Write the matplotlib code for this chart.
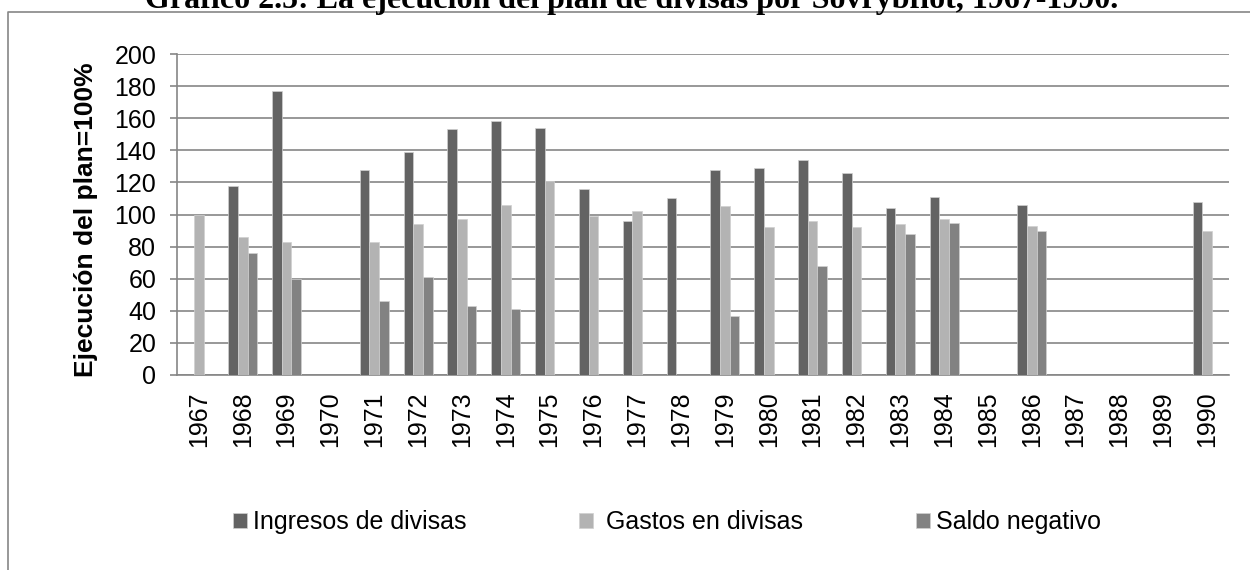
import numpy as np
import matplotlib
matplotlib.use('Agg')
import matplotlib.pyplot as plt
from matplotlib.lines import Line2D

# Años y ejecución del plan (plan = 100%)
years = [str(y) for y in range(1967, 1991)]
ingresos = [np.nan, 118, 177, np.nan, 128, 139, 153, 158, 154, 116, 96, 110,
            128, 129, 134, 126, 104, 111, np.nan, 106, np.nan, np.nan, np.nan, 108]
gastos = [100, 86, 83, np.nan, 83, 94, 97, 106, 121, 99, 102, np.nan,
          105, 92, 96, 92, 94, 97, np.nan, 93, np.nan, np.nan, np.nan, 90]
saldo = [np.nan, 76, 60, np.nan, 46, 61, 43, 41, np.nan, np.nan, np.nan, np.nan,
         37, np.nan, 68, np.nan, 88, 95, np.nan, 90, np.nan, np.nan, np.nan, np.nan]

series_labels = ['Ingresos de divisas', ' Gastos en divisas', 'Saldo negativo']
colors = ['#636363', '#b3b3b3', '#828282']
grid_col = '#868686'

plt.rcParams['font.family'] = ['Liberation Sans', 'DejaVu Sans']

fig = plt.figure(figsize=(12.5, 5.7), dpi=100)
ax = fig.add_axes([177 / 1250, 1 - 375 / 570, 1052 / 1250, 321 / 570])

x = np.arange(len(years))
w = 0.22
bars = []
for i, (vals, col, lab) in enumerate(zip([ingresos, gastos, saldo], colors, series_labels)):
    b = ax.bar(x + (i - 1) * w, vals, width=w, color=col, edgecolor='#d0d0d0',
               linewidth=0.5, label=lab, zorder=3)
    bars.append(b)

ax.set_xlim(-0.5, len(years) - 0.5)
ax.set_ylim(0, 200)
ax.set_yticks(range(0, 201, 20))
ax.set_xticks(x)
ax.set_xticklabels(years, rotation=90, fontsize=18)
ax.tick_params(axis='x', length=0, pad=12)
ax.tick_params(axis='y', length=5, width=1.2, color=grid_col, labelsize=18, pad=10)
ax.yaxis.grid(True, color=grid_col, linewidth=1.2, zorder=0)
ax.set_axisbelow(True)
for s in ['top', 'right']:
    ax.spines[s].set_visible(False)
for s in ['left', 'bottom']:
    ax.spines[s].set_color(grid_col)
    ax.spines[s].set_linewidth(1.2)

fig.text(86 / 1250, 1 - 220 / 570, 'Ejecución del plan=100%', rotation=90,
         ha='center', va='center', fontsize=19, fontweight='bold')

fig.text(632 / 1250, 1 - 8 / 570,
         'Gráfico 2.5: La ejecución del plan de divisas por Sovrybflot, 1967-1990.',
         ha='center', va='baseline', fontsize=23, fontweight='bold',
         family=['Liberation Serif', 'DejaVu Serif'])

# marco exterior del gráfico
fig.add_artist(Line2D([8 / 1250, 8 / 1250, 1], [0, 1 - 12 / 570, 1 - 12 / 570],
                      transform=fig.transFigure, color=grid_col, linewidth=1.2))

fig.legend(handles=bars, labels=series_labels, loc='center left',
           bbox_to_anchor=(233 / 1250, 1 - 522 / 570), ncol=3, frameon=False,
           fontsize=18, handlelength=0.56, handleheight=0.56, handletextpad=0.24,
           columnspacing=4.5, borderpad=0, borderaxespad=0)

fig.savefig('out.png', dpi=100)
